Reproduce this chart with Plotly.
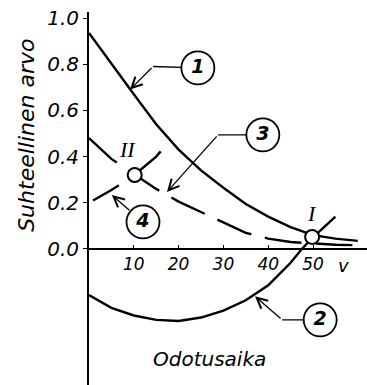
import plotly.graph_objects as go

# curve data (x = Odotusaika, y = Suhteellinen arvo)
x1 = [0, 5, 10, 15, 20, 25, 30, 35, 40, 45, 50, 55, 60]
y1 = [0.935, 0.80, 0.67, 0.54, 0.43, 0.34, 0.265, 0.195, 0.14, 0.095, 0.06, 0.045, 0.035]

x2 = [0, 5, 10, 15, 20, 25, 30, 35, 40, 45, 47.5, 50, 55]
y2 = [-0.2, -0.255, -0.288, -0.307, -0.312, -0.297, -0.267, -0.222, -0.157, -0.06, 0.0, 0.05, 0.14]

x3 = [0, 5, 10, 15, 20, 25, 30, 35, 40, 45, 50, 55, 60]
y3 = [0.48, 0.39, 0.325, 0.26, 0.205, 0.16, 0.113, 0.07, 0.045, 0.03, 0.024, 0.018, 0.016]

x4 = [0.9, 5, 10, 15, 17]
y4 = [0.21, 0.255, 0.318, 0.40, 0.445]

# special points
pt_names = ["I", "II"]
pt_x = [49.8, 10.2]
pt_y = [0.052, 0.32]

# numbered callouts: circle centre, bend of leader, arrow tip
lab_text = ["1", "2", "3", "4"]
lab_x = [24.3, 51.6, 38.8, 12.05]
lab_y = [0.784, -0.307, 0.494, 0.117]
bend_x = [14.3, 43.1, 28.8, 9.35]
bend_y = [0.79, -0.307, 0.494, 0.162]
tip_x = [9.15, 37.05, 17.4, 5.1]
tip_y = [0.69, -0.205, 0.247, 0.234]

xticks = [10, 20, 30, 40, 50]
yticks = [0.0, 0.2, 0.4, 0.6, 0.8, 1.0]

ink = "black"
fnt = "DejaVu Sans"

fig = go.Figure()

fig.add_trace(go.Scatter(x=x1, y=y1, mode="lines", line=dict(color=ink, width=2.4)))
fig.add_trace(go.Scatter(x=x2, y=y2, mode="lines", line=dict(color=ink, width=2.4)))
fig.add_trace(go.Scatter(x=x3, y=y3, mode="lines", line=dict(color=ink, width=2.4, dash="37px,14px")))
fig.add_trace(go.Scatter(x=x4, y=y4, mode="lines", line=dict(color=ink, width=2.4, dash="30px,24px")))

# leader lines circle -> bend
for i in range(len(lab_text)):
    fig.add_trace(go.Scatter(x=[lab_x[i], bend_x[i]], y=[lab_y[i], bend_y[i]], mode="lines",
                             line=dict(color=ink, width=1.4)))
    fig.add_annotation(x=tip_x[i], y=tip_y[i], ax=bend_x[i], ay=bend_y[i],
                       xref="x", yref="y", axref="x", ayref="y", text="",
                       showarrow=True, arrowhead=5, arrowsize=1.6, arrowwidth=1.3,
                       arrowcolor=ink, standoff=0, startstandoff=0)

# circled numbers
fig.add_trace(go.Scatter(x=lab_x, y=lab_y, mode="markers+text", text=lab_text,
                         textposition="middle center",
                         textfont=dict(family=fnt, size=19, color=ink, style="italic", weight="bold"),
                         marker=dict(symbol="circle", size=33, color="white",
                                     line=dict(color=ink, width=1.8))))

# points I and II
fig.add_trace(go.Scatter(x=pt_x, y=pt_y, mode="markers",
                         marker=dict(symbol="circle", size=14, color="white",
                                     line=dict(color=ink, width=2))))
fig.add_annotation(x=pt_x[0], y=pt_y[0], text=pt_names[0], showarrow=False, yshift=23, xshift=0,
                   font=dict(family="Liberation Serif", size=22, color=ink, style="italic"))
fig.add_annotation(x=pt_x[1], y=pt_y[1], text=pt_names[1], showarrow=False, yshift=26, xshift=-7,
                   font=dict(family="Liberation Serif", size=22, color=ink, style="italic"))

# axis titles
fig.add_annotation(x=-0.275, y=0.49, xref="paper", yref="y", text="Suhteellinen arvo",
                   textangle=-90, showarrow=False,
                   font=dict(family=fnt, size=22, color=ink, style="italic"))
fig.add_annotation(x=27, y=-0.475, text="Odotusaika", showarrow=False,
                   font=dict(family=fnt, size=20, color=ink, style="italic"))
fig.add_annotation(x=56.8, y=0, text="v", showarrow=False, yshift=-17,
                   font=dict(family=fnt, size=18, color=ink, style="italic"))

fig.update_layout(
    width=367, height=385,
    margin=dict(l=89, r=0, t=12, b=0, autoexpand=False),
    paper_bgcolor="white", plot_bgcolor="white",
    showlegend=False,
    xaxis=dict(range=[0, 62.05], anchor="free", position=0.3647, automargin=False,
               showline=True, linecolor=ink, linewidth=2,
               tickvals=xticks, ticks="inside", ticklen=3, tickcolor=ink,
               tickfont=dict(family=fnt, size=17, color=ink, style="italic"),
               showgrid=False, zeroline=False),
    yaxis=dict(range=[-0.589, 1.026], automargin=False, showline=True, linecolor=ink, linewidth=2,
               tickvals=yticks, tickformat=".1f", ticks="outside", ticklen=4, tickcolor=ink,
               tickfont=dict(family=fnt, size=20, color=ink, style="italic"),
               showgrid=False, zeroline=False),
)

# the page body has a default 8px margin; remove it so the figure sits at the corner
fig.write_html("out.html", config={"displayModeBar": False},
               post_script="document.body.style.margin='0';")
